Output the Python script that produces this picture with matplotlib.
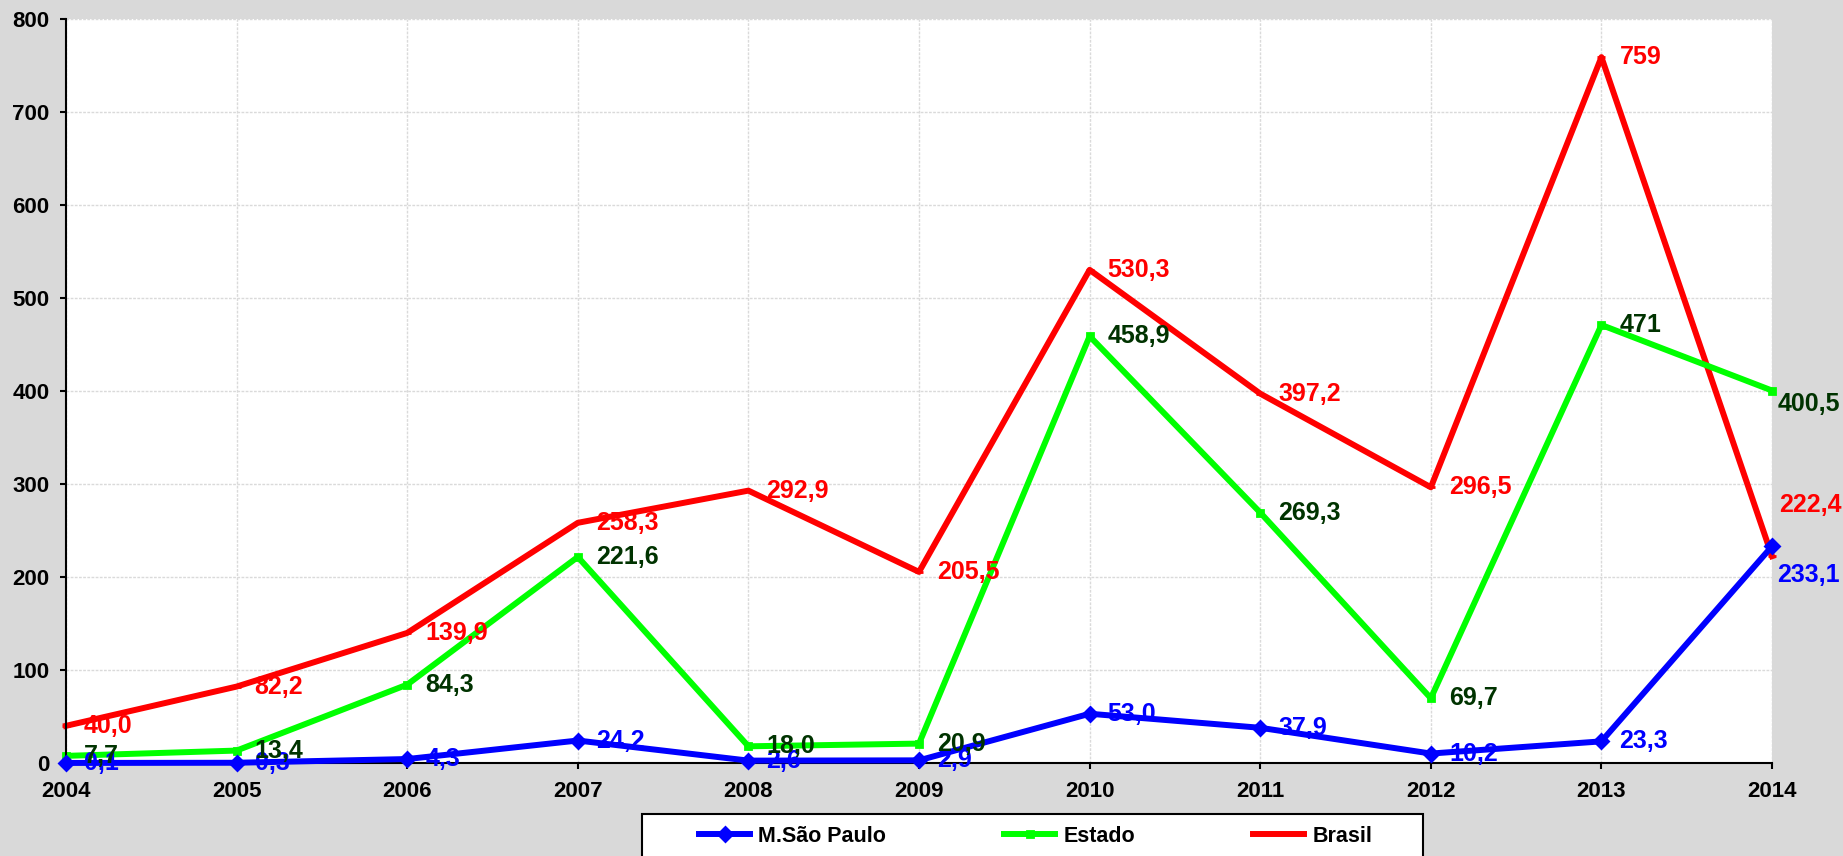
import matplotlib
matplotlib.use("Agg")
import matplotlib.pyplot as plt
from matplotlib.patches import Rectangle

years = [2004, 2005, 2006, 2007, 2008, 2009, 2010, 2011, 2012, 2013, 2014]
sao_paulo = [0.1, 0.3, 4.3, 24.2, 2.6, 2.9, 53.0, 37.9, 10.2, 23.3, 233.1]
estado = [7.7, 13.4, 84.3, 221.6, 18.0, 20.9, 458.9, 269.3, 69.7, 471, 400.5]
brasil = [40.0, 82.2, 139.9, 258.3, 292.9, 205.5, 530.3, 397.2, 296.5, 759, 222.4]
yticks = [0, 100, 200, 300, 400, 500, 600, 700, 800]

plt.rcParams['font.family'] = ['Liberation Sans', 'DejaVu Sans']
plt.rcParams['font.weight'] = 'bold'


def fmt(v):
    if isinstance(v, int):
        return str(v)
    return f"{v:.1f}".replace('.', ',')


fig = plt.figure(figsize=(18.43, 8.56), dpi=100)
fig.patch.set_facecolor('#D9D9D9')
ax = fig.add_axes([0.0358, 0.1086, 0.9257, 0.8692])
ax.set_facecolor('white')

series = [
    ("M.São Paulo", sao_paulo, '#0000FF', '#0000FF', 'D', 7),
    ("Estado", estado, '#00FF00', '#003300', 's', 5),
    ("Brasil", brasil, '#FF0000', '#FF0000', '_', 6),
]

# last-point label tweaks (x pts, y pts) so they don't collide at 2014
last_offsets = {"M.São Paulo": (4, -21), "Estado": (4, -10), "Brasil": (5, 37)}

for name, vals, col, tcol, mk, ms in reversed(series):
    z = 5 if name == "M.São Paulo" else 3
    ax.plot(years, vals, color=col, lw=4.3, marker=mk, markersize=ms,
            markeredgewidth=2, label=name, clip_on=False, zorder=z)
for name, vals, col, tcol, mk, ms in series:
    for i, (x, v) in enumerate(zip(years, vals)):
        off = (13, 0)
        if i == len(vals) - 1:
            off = last_offsets[name]
        ax.annotate(fmt(v), (x, v), xytext=off, textcoords='offset points',
                    ha='left', va='center', color=tcol, fontsize=18,
                    fontweight='bold', annotation_clip=False, zorder=6)

ax.set_xlim(2004, 2014)
ax.set_ylim(0, 800)
ax.set_xticks(years)
ax.set_yticks(yticks)
ax.tick_params(axis='both', labelsize=16, direction='out', length=4, width=1.5)
ax.tick_params(axis='x', pad=9)
ax.tick_params(axis='y', pad=8)
for lab in ax.get_xticklabels() + ax.get_yticklabels():
    lab.set_fontweight('bold')

ax.grid(True, color='#DADADA', linestyle=(0, (2, 1)), lw=1)
ax.set_axisbelow(True)
for s in ['top', 'right']:
    ax.spines[s].set_visible(False)
for s in ['left', 'bottom']:
    ax.spines[s].set_linewidth(1.5)
    ax.spines[s].set_zorder(4)

# legend box, running off the bottom of the figure
fig.patches.append(Rectangle((642 / 1843, -0.05), (1423 - 642) / 1843, 0.05 + 1 - 814 / 856,
                             transform=fig.transFigure, facecolor='white',
                             edgecolor='black', lw=1.5, zorder=1))
handles, labels = ax.get_legend_handles_labels()
order = [labels.index(n) for n, *_ in series]
leg = fig.legend([handles[i] for i in order], [labels[i] for i in order],
                 loc='center left', bbox_to_anchor=(699 / 1843, 1 - 836 / 856),
                 ncol=3, frameon=False, borderpad=0, borderaxespad=0,
                 handlelength=2.37, handletextpad=0.37, columnspacing=5.5,
                 prop={'size': 15.5, 'weight': 'bold', 'family': 'Liberation Sans'})
leg.set_zorder(2)

fig.savefig('out.png', dpi=100, facecolor=fig.get_facecolor())
